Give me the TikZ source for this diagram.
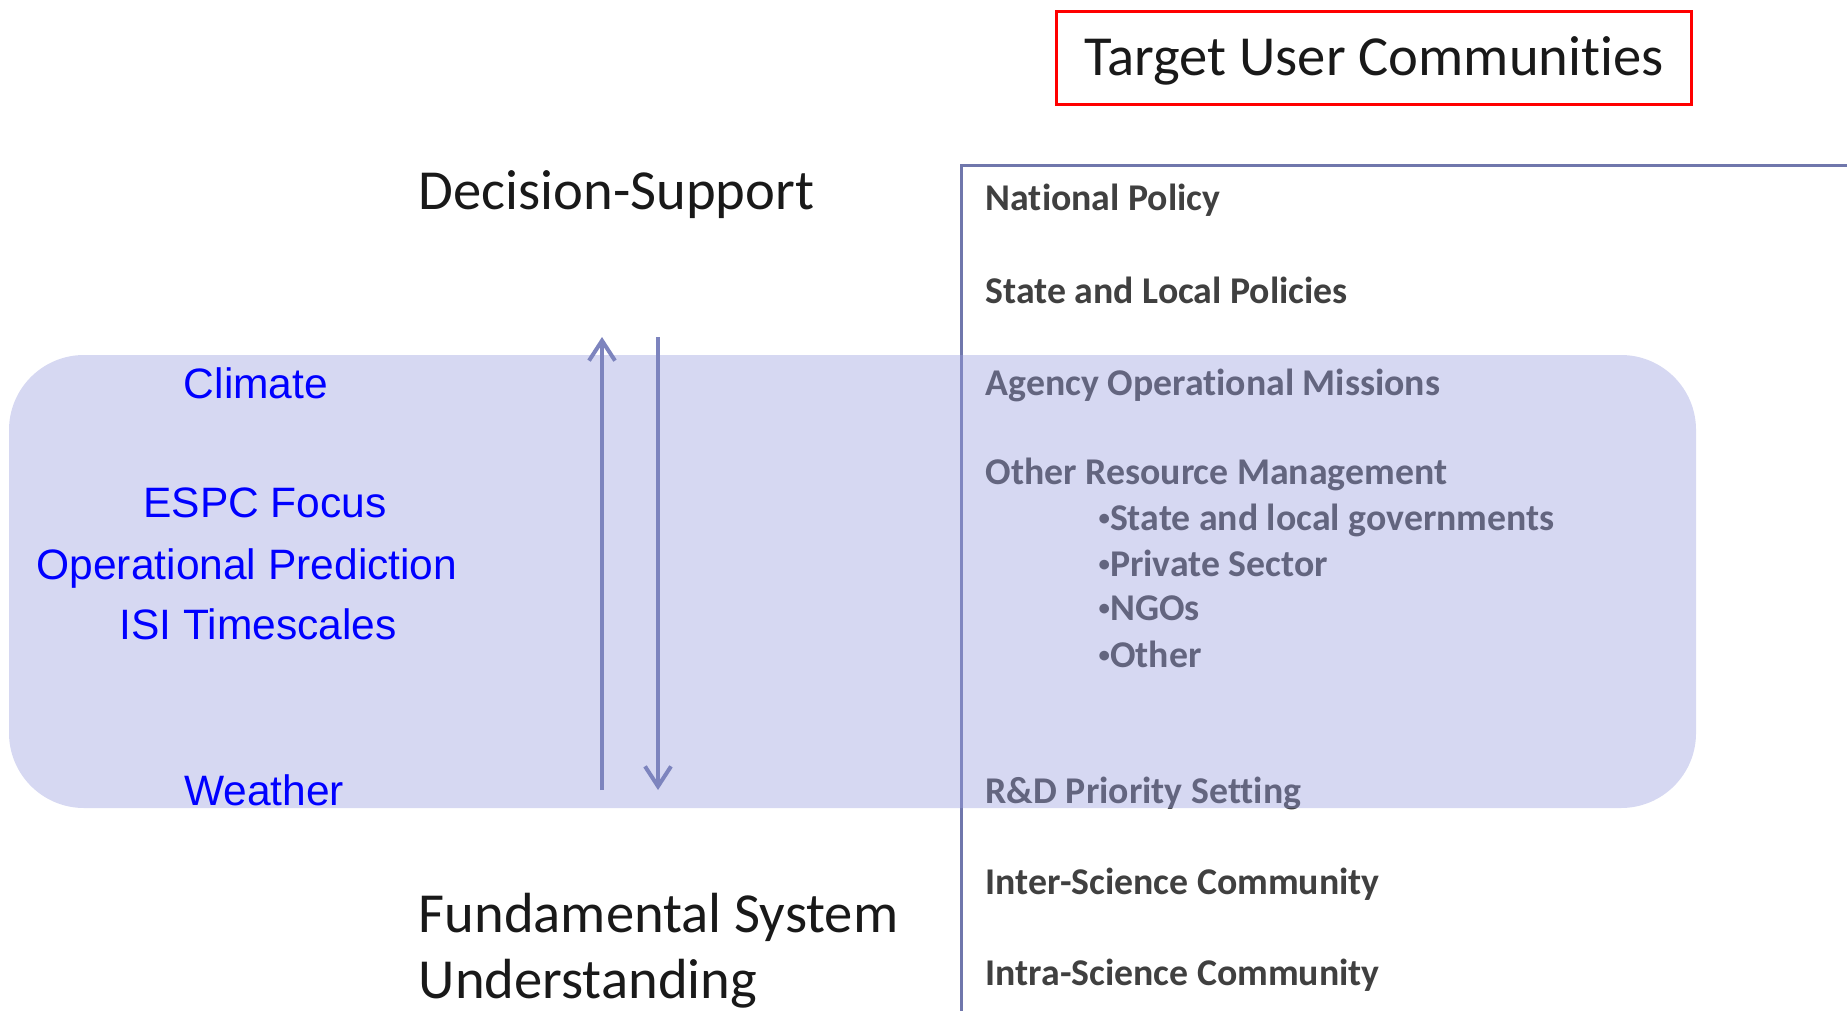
\documentclass[tikz,border=0pt]{standalone}
\usepackage{fontspec}
\setmainfont{Carlito}[Ligatures=NoCommon]
\newfontfamily\arialfont{Liberation Sans}
\usetikzlibrary{arrows.meta}

\definecolor{bandblue}{RGB}{152,157,222}
\definecolor{slate}{RGB}{112,119,172}
\definecolor{arrowblue}{RGB}{125,132,190}
\definecolor{itemgray}{RGB}{64,64,64}

% small bullet in front of the sub items
\newcommand{\dotmark}{{\fontsize{6.5}{8}\selectfont\raisebox{1.4pt}{•}}}

\tikzset{
  item/.style={anchor=base west, inner sep=0pt, text=itemgray,
    font=\fontsize{10.75}{13}\selectfont\bfseries},
  bluetext/.style={anchor=base, inner sep=0pt, text=blue,
    font=\arialfont\fontsize{12.1}{14.5}\selectfont},
  bigtext/.style={anchor=base west, inner sep=0pt, text=black!90,
    font=\fontsize{16.1}{19}\selectfont},
  flowarrow/.style={draw=arrowblue, line width=0.4mm,
    -{Straight Barb[length=2mm,width=2.6mm]}}
}

\begin{document}
\begin{tikzpicture}[x=0.1mm,y=-0.1mm]

\useasboundingbox (0,0) rectangle (1847,1010);

%title box
\node (title) [draw=red, line width=0.35mm, minimum width=63.5mm, minimum height=9.3mm,
  text height=13pt, text depth=3pt,
  text=black!90, font=\fontsize{16.1}{19}\selectfont] at (1374,58) {Target User Communities};

%user communities
\node (natpol)  [item] at (985,211) {National Policy};
\node (statepol)[item] at (985,304) {State and Local Policies};
\node (agency)  [item] at (985,395) {Agency Operational Missions};
\node (resmgmt) [item] at (985,484) {Other Resource Management};
\node (govs)    [item] at (1098,530) {\dotmark State and local governments};
\node (private) [item] at (1098,576) {\dotmark Private Sector};
\node (ngos)    [item] at (1098,620) {\dotmark NGOs};
\node (other)   [item] at (1098,667) {\dotmark Other};
\node (rnd)     [item] at (985,803) {R\&D Priority Setting};
\node (inter)   [item] at (985,894) {Inter-Science Community};
\node (intra)   [item] at (985,985) {Intra-Science Community};

%frame of the list
\draw [slate, line width=0.3mm] (961,1012) -- (961,166) -- (1849,166);

%ESPC band
\fill [bandblue, fill opacity=0.4, rounded corners=7.5mm] (9,355) rectangle (1696,808);

%timescales
\node (climate) [bluetext] at (256,398) {Climate};
\node (espc)    [bluetext] at (265,517) {ESPC Focus};
\node (opred)   [bluetext] at (247,579) {Operational Prediction};
\node (isi)     [bluetext] at (258,639) {ISI Timescales};
\node (weather) [bluetext] at (264,805) {Weather};

%ends of the arrows
\coordinate (upfoot) at (602,790);
\coordinate (uptip) at (602,337);
\coordinate (downtop) at (658,337);
\coordinate (downtip) at (658,790);

\draw [flowarrow] (upfoot) -- (uptip);
\draw [flowarrow] (downtop) -- (downtip);

%levels
\node (decision) [bigtext] at (418,210) {Decision-Support};
\node (fundam)   [bigtext] at (418,932) {Fundamental System};
\node (underst)  [bigtext] at (418,998) {Understanding};

\end{tikzpicture}
\end{document}
